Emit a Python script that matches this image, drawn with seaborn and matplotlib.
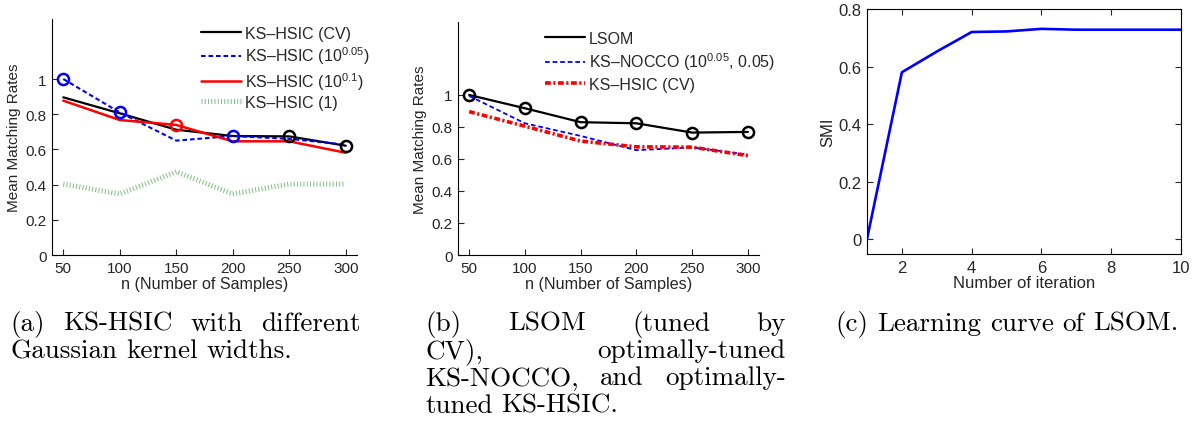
import matplotlib
matplotlib.use("Agg")
import numpy as np
import pandas as pd
import matplotlib.pyplot as plt
import seaborn as sns

# data
n_samples = [50, 100, 150, 200, 250, 300]
hsic_cv = [0.896, 0.805, 0.712, 0.676, 0.674, 0.621]
hsic_w005 = [1.0, 0.81, 0.65, 0.676, 0.66, 0.627]
hsic_w01 = [0.877, 0.767, 0.739, 0.646, 0.646, 0.581]
hsic_w1 = [0.403, 0.347, 0.473, 0.347, 0.403, 0.403]
best_a = ["w005", "w005", "w01", "w005", "cv", "cv"]

lsom = [1.0, 0.917, 0.83, 0.823, 0.765, 0.769]
nocco = [0.994, 0.823, 0.744, 0.655, 0.672, 0.628]

iterations = [1, 2, 3, 4, 5, 6, 7, 8, 9, 10]
smi = [0.0, 0.58, 0.652, 0.72, 0.722, 0.731, 0.728, 0.728, 0.728, 0.728]

sns.set_theme(style="ticks")
plt.rcParams["font.family"] = ["Liberation Sans", "DejaVu Sans"]
plt.rcParams["mathtext.fontset"] = "custom"
plt.rcParams["mathtext.rm"] = "Liberation Sans"
plt.rcParams["xtick.direction"] = "in"
plt.rcParams["ytick.direction"] = "in"
plt.rcParams["axes.linewidth"] = 0.8
plt.rcParams["axes.edgecolor"] = "black"

W, H = 1198, 435
fig = plt.figure(figsize=(W / 100, H / 100), dpi=100)

def box(l, t, r, b):
    return [l / W, 1 - b / H, (r - l) / W, (b - t) / H]

green = (0.5, 0.76, 0.5)

# (a)
ax1 = fig.add_axes(box(52, 20, 357, 256))
df_a = pd.DataFrame({"n": n_samples, "cv": hsic_cv, "w005": hsic_w005, "w01": hsic_w01, "w1": hsic_w1})
style_a = {
    "cv": dict(color="black", lw=1.6, linestyle="-", label="KS\u2013HSIC (CV)"),
    "w005": dict(color="blue", lw=1.5, linestyle=(0, (2.2, 1.4)), label="KS\u2013HSIC ($10^{0.05}$)"),
    "w01": dict(color="red", lw=1.8, linestyle="-", label="KS\u2013HSIC ($10^{0.1}$)"),
    "w1": dict(color=green, lw=3.6, linestyle=(0, (0.2, 0.45)), label="KS\u2013HSIC (1)"),
}
for key, st in style_a.items():
    sns.lineplot(data=df_a, x="n", y=key, ax=ax1, **st)
for xv, key in zip(n_samples, best_a):
    ax1.plot(xv, df_a.loc[df_a["n"] == xv, key].values[0], "o", ms=8, mfc="none",
             mew=1.8, color=style_a[key]["color"])
ax1.set_xlim(40, 310)
ax1.set_ylim(0, 1.341)
ax1.set_xticks(n_samples)
ax1.set_yticks([0, 0.2, 0.4, 0.6, 0.8, 1])
ax1.set_yticklabels(["0", "0.2", "0.4", "0.6", "0.8", "1"])
ax1.set_xlabel("n (Number of Samples)", fontsize=11.6, labelpad=1)
ax1.set_ylabel("Mean Matching Rates", fontsize=11, labelpad=3)
ax1.tick_params(labelsize=11, length=4, width=0.8, pad=4)
sns.despine(ax=ax1)
ax1.legend(loc="upper left", bbox_to_anchor=(0.49, 0.97), frameon=False, fontsize=11.5,
           handlelength=2.5, handletextpad=0.25, labelspacing=0.22, borderpad=0, borderaxespad=0)

# (b)
ax2 = fig.add_axes(box(458, 23, 759, 256))
df_b = pd.DataFrame({"n": n_samples, "lsom": lsom, "nocco": nocco, "cv": hsic_cv})
sns.lineplot(data=df_b, x="n", y="lsom", ax=ax2, color="black", lw=1.6, label="LSOM",
             marker="o", ms=8, mfc="none", mew=1.8, mec="black")
sns.lineplot(data=df_b, x="n", y="nocco", ax=ax2, color="blue", lw=1.3,
             linestyle=(0, (2.6, 1.6)), label="KS\u2013NOCCO ($10^{0.05}$, 0.05)")
sns.lineplot(data=df_b, x="n", y="cv", ax=ax2, color="red", lw=2.6,
             linestyle=(0, (1.6, 0.7, 0.6, 0.7)), label="KS\u2013HSIC (CV)")
ax2.set_xlim(40, 310)
ax2.set_ylim(0, 1.456)
ax2.set_xticks(n_samples)
ax2.set_yticks([0, 0.2, 0.4, 0.6, 0.8, 1])
ax2.set_yticklabels(["0", "0.2", "0.4", "0.6", "0.8", "1"])
ax2.set_xlabel("n (Number of Samples)", fontsize=11.6, labelpad=1)
ax2.set_ylabel("Mean Matching Rates", fontsize=11, labelpad=3)
ax2.tick_params(labelsize=11, length=4, width=0.8, pad=4)
sns.despine(ax=ax2)
leg = ax2.legend(loc="upper left", bbox_to_anchor=(0.29, 0.963), frameon=False, fontsize=11.5,
                 handlelength=2.5, handletextpad=0.25, labelspacing=0.3, borderpad=0, borderaxespad=0)
leg.legend_handles[0].set_marker("")

# (c)
ax3 = fig.add_axes(box(867, 10, 1181, 255))
sns.lineplot(x=iterations, y=smi, ax=ax3, color="blue", lw=1.9)
ax3.set_xlim(1, 10)
ax3.set_ylim(-0.052, 0.8)
ax3.set_xticks([2, 4, 6, 8, 10])
ax3.set_yticks([0, 0.2, 0.4, 0.6, 0.8])
ax3.set_yticklabels(["0", "0.2", "0.4", "0.6", "0.8"])
ax3.set_xlabel("Number of iteration", fontsize=12, labelpad=0)
ax3.set_ylabel("SMI", fontsize=12, labelpad=2)
ax3.tick_params(labelsize=12, length=4, width=0.8, pad=4, top=True, right=True)

# captions (justified like the LaTeX subcaptions)
rend = fig.canvas.get_renderer()

def caption(lines, x0, x1, y0, dy, size=19.5):
    for i, (line, just) in enumerate(lines):
        words = line.split()
        txts = [fig.text(0, 0, w, fontsize=size, family="cmr10", va="baseline", color="black")
                for w in words]
        widths = [t.get_window_extent(rend).width for t in txts]
        if just and len(words) > 1:
            gap = (x1 - x0 - sum(widths)) / (len(words) - 1)
        else:
            gap = size * 0.33 * 100 / 72
        x = x0
        for t, w in zip(txts, widths):
            t.set_position((x / W, 1 - (y0 + i * dy) / H))
            x += w + gap

caption([("(a) KS-HSIC with different", True), ("Gaussian kernel widths.", False)],
        10, 361, 331, 27.2)
caption([("(b) LSOM (tuned by", True), ("CV), optimally-tuned", True),
         ("KS-NOCCO, and optimally-", True), ("tuned KS-HSIC.", False)],
        425, 786, 331, 27.2)
caption([("(c) Learning curve of LSOM.", False)], 835, 1172, 331, 27.2)

fig.savefig("out.png", dpi=100)
